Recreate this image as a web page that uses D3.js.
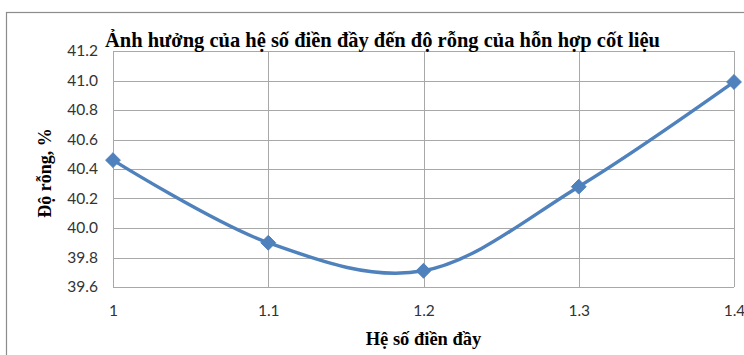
<!DOCTYPE html>
<html>
<head>
<meta charset="utf-8">
<script src="https://cdn.jsdelivr.net/npm/d3@7"></script>
<style>
  html, body { margin: 0; padding: 0; background: #fff; }
  svg { display: block; }
</style>
</head>
<body>
<svg id="chart" width="744" height="355"></svg>
<script>
// Hệ số điền đầy vs. độ rỗng của hỗn hợp cốt liệu
const fillFactors = [1.0, 1.1, 1.2, 1.3, 1.4];
const voidRatios = [40.46, 39.90, 39.71, 40.28, 40.99];
const xTicks = [1.0, 1.1, 1.2, 1.3, 1.4];
const xTickLabels = ["1", "1.1", "1.2", "1.3", "1.4"];
const yTicks = [39.6, 39.8, 40.0, 40.2, 40.4, 40.6, 40.8, 41.0, 41.2];

const titleText = "Ảnh hưởng của hệ số điền đầy đến độ rỗng của hỗn hợp cốt liệu";
const xTitle = "Hệ số điền đầy";
const yTitle = "Độ rỗng, %";

const svg = d3.select("#chart");
const plot = { left: 113, right: 734, top: 51, bottom: 287 };

const x = d3.scaleLinear().domain([1.0, 1.4]).range([plot.left, plot.right]);
const y = d3.scaleLinear().domain([39.6, 41.2]).range([plot.bottom, plot.top]);

// outer chart frame
svg.append("rect")
  .attr("x", 6.5).attr("y", 12.5)
  .attr("width", 900).attr("height", 500)
  .attr("fill", "none").attr("stroke", "#8c8c8c").attr("stroke-width", 1.2);

const gridColor = "#a8a8a8";

// horizontal gridlines
svg.append("g")
  .selectAll("line").data(yTicks).join("line")
  .attr("x1", plot.left).attr("x2", plot.right)
  .attr("y1", d => Math.round(y(d)) + 0.5).attr("y2", d => Math.round(y(d)) + 0.5)
  .attr("stroke", gridColor).attr("stroke-width", 1);

// vertical gridlines
svg.append("g")
  .selectAll("line").data(xTicks).join("line")
  .attr("x1", d => Math.round(x(d)) + 0.5).attr("x2", d => Math.round(x(d)) + 0.5)
  .attr("y1", plot.top).attr("y2", plot.bottom)
  .attr("stroke", gridColor).attr("stroke-width", 1);

// y axis labels
const yAxis = d3.axisLeft(y).tickValues(yTicks).tickFormat(d3.format(".1f")).tickSize(0).tickPadding(15);
const gy = svg.append("g").attr("transform", `translate(${plot.left},0)`).call(yAxis);
gy.select(".domain").remove();
gy.selectAll("text")
  .attr("font-family", "Lato, 'Open Sans', sans-serif")
  .attr("font-size", 15.5).attr("fill", "#333");

// x axis labels
const xAxis = d3.axisBottom(x).tickValues(xTicks).tickFormat((d, i) => xTickLabels[i]).tickSize(0).tickPadding(18);
const gx = svg.append("g").attr("transform", `translate(0,${plot.bottom})`).call(xAxis);
gx.select(".domain").remove();
gx.selectAll("text")
  .attr("font-family", "Lato, 'Open Sans', sans-serif")
  .attr("font-size", 15.5).attr("fill", "#333");

// smoothed series line
const pts = fillFactors.map((f, i) => [f, voidRatios[i]]);
const line = d3.line()
  .x(d => x(d[0])).y(d => y(d[1]))
  .curve(d3.curveCatmullRom.alpha(0));
svg.append("path")
  .datum(pts)
  .attr("d", line)
  .attr("fill", "none")
  .attr("stroke", "#4f81bd")
  .attr("stroke-width", 3.4)
  .attr("stroke-linejoin", "round");

// diamond markers
const diamond = d3.symbol().type(d3.symbolDiamond2).size(140);
svg.append("g")
  .selectAll("path").data(pts).join("path")
  .attr("transform", d => `translate(${x(d[0])},${y(d[1])})`)
  .attr("d", diamond)
  .attr("fill", "#4f81bd")
  .attr("stroke", "#4f81bd").attr("stroke-width", 1);

// titles
svg.append("text")
  .attr("x", 105).attr("y", 47)
  .attr("font-family", "'Liberation Serif', 'DejaVu Serif', serif")
  .attr("font-weight", "bold").attr("font-size", 22)
  .attr("textLength", 555).attr("lengthAdjust", "spacingAndGlyphs")
  .attr("fill", "#000")
  .text(titleText);

svg.append("text")
  .attr("x", (plot.left + plot.right) / 2).attr("y", 345)
  .attr("text-anchor", "middle")
  .attr("font-family", "'Liberation Serif', 'DejaVu Serif', serif")
  .attr("font-weight", "bold").attr("font-size", 18.5)
  .attr("fill", "#000")
  .text(xTitle);

svg.append("text")
  .attr("transform", `translate(51,${(plot.top + plot.bottom) / 2 + 4}) rotate(-90)`)
  .attr("text-anchor", "middle")
  .attr("font-family", "'Liberation Serif', 'DejaVu Serif', serif")
  .attr("font-weight", "bold").attr("font-size", 18)
  .attr("fill", "#000")
  .text(yTitle);
</script>
</body>
</html>
